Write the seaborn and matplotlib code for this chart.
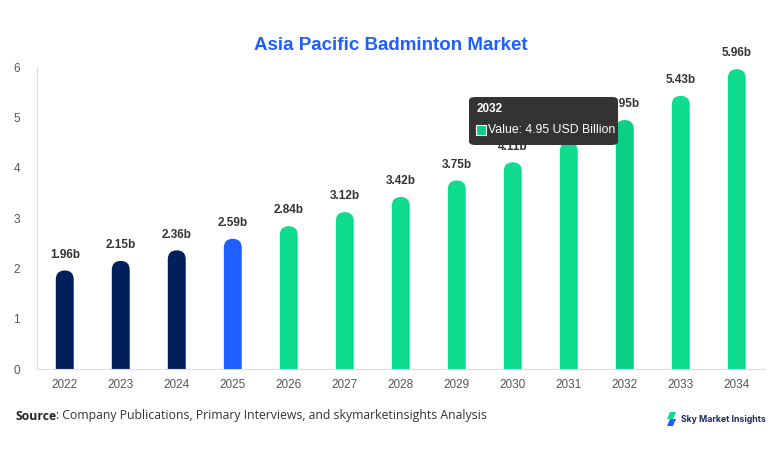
import numpy as np
import pandas as pd
import matplotlib
matplotlib.use("Agg")
import matplotlib.pyplot as plt
import seaborn as sns
from matplotlib.patches import FancyBboxPatch, Polygon

years = ["2022", "2023", "2024", "2025", "2026", "2027", "2028",
         "2029", "2030", "2031", "2032", "2033", "2034"]
values = [1.96, 2.15, 2.36, 2.59, 2.84, 3.12, 3.42, 3.75, 4.11, 4.51, 4.95, 5.43, 5.96]
bar_colors = ["#001f5b", "#001f5b", "#001f5b", "#1f5fff"] + ["#10dc8f"] * 6 + ["#0bcf84"] + ["#10dc8f"] * 2
hover_year = "2032"

df = pd.DataFrame({"year": years, "value": values})

sns.set_style("white")
plt.rcParams["font.family"] = ["Liberation Sans", "DejaVu Sans"]

fig = plt.figure(figsize=(7.82, 4.54), dpi=100)
ax = fig.add_axes([0.047, 0.187, 0.931, 0.665])

sns.barplot(data=df, x="year", y="value", hue="year", palette=bar_colors,
            legend=False, width=0.32, saturation=1, ax=ax)
ax.set_ylim(0, 6)
ax.set_xlim(-0.5, len(years) - 0.5)

# pixel aspect so the rounded top looks circular
fig.canvas.draw()
bb = ax.get_window_extent()
px_x = bb.width / (len(years))
px_y = bb.height / 6.0
aspect = px_x / px_y

for p in list(ax.patches):
    x0, w, h = p.get_x(), p.get_width(), p.get_height()
    r = w / 2
    ry = r * aspect
    fb = FancyBboxPatch((x0, -ry), w, h + ry,
                        boxstyle=f"round,pad=0,rounding_size={r}",
                        mutation_aspect=aspect,
                        facecolor=p.get_facecolor(), edgecolor="none")
    p.remove()
    ax.add_patch(fb)

for i, v in enumerate(values):
    ax.annotate(f"{v:.2f}b", (i, v), xytext=(0, 7), textcoords="offset points",
                ha="center", va="bottom", fontsize=8.5, fontweight="bold", color="#333333")

ax.set_xlabel("")
ax.set_ylabel("")
ax.set_yticks(range(0, 7))
ax.tick_params(axis="both", length=0, colors="#555555", labelsize=8.5)
ax.tick_params(axis="y", pad=12)
ax.tick_params(axis="x", pad=7)
for s in ["top", "right"]:
    ax.spines[s].set_visible(False)
for s in ["left", "bottom"]:
    ax.spines[s].set_color("#dddddd")
    ax.spines[s].set_linewidth(0.8)

fig.text(0.5, 0.9, "Asia Pacific Badminton Market", ha="center", va="center",
         fontsize=13.5, fontweight="bold", color="#1f5fff")

# tooltip for hovered bar
hi = years.index(hover_year)
tip = FancyBboxPatch((469 / 782, 1 - 145 / 454), 149 / 782, 48 / 454,
                     boxstyle="round,pad=0,rounding_size=0.008",
                     transform=fig.transFigure, facecolor="#333333",
                     edgecolor="none", zorder=10)
fig.patches.append(tip)
fig.text(477 / 782, 1 - 109 / 454, hover_year, ha="left", va="center",
         fontsize=8.5, fontweight="bold", color="white", zorder=11)
sq = FancyBboxPatch((476 / 782, 1 - 135 / 454), 10 / 782, 10 / 454,
                    boxstyle="square,pad=0", transform=fig.transFigure,
                    facecolor=bar_colors[hi], edgecolor="white", linewidth=0.8, zorder=11)
fig.patches.append(sq)
fig.text(488 / 782, 1 - 130 / 454, f"Value: {values[hi]:.2f} USD Billion", ha="left",
         va="center", fontsize=8.8, color="white", zorder=11)

# source line
src = fig.text(15 / 782, 1 - 416 / 454, "Source", ha="left", va="center", fontsize=8.8,
               fontweight="bold", color="#222222", family=["Open Sans", "DejaVu Sans"])
ax.annotate(": Company Publications, Primary Interviews, and skymarketinsights Analysis",
            xy=(1, 0.5), xycoords=src, ha="left", va="center", fontsize=8.8,
            color="#333333", family=["Open Sans", "DejaVu Sans"], annotation_clip=False)

# logo
icon1 = Polygon([(670 / 782, 1 - 412 / 454), (676 / 782, 1 - 412 / 454),
                 (673 / 782, 1 - 419 / 454), (667 / 782, 1 - 419 / 454)],
                closed=True, transform=fig.transFigure, facecolor="#10dc8f", edgecolor="none")
icon2 = Polygon([(670 / 782, 1 - 419 / 454), (676 / 782, 1 - 419 / 454),
                 (673 / 782, 1 - 426 / 454), (667 / 782, 1 - 426 / 454)],
                closed=True, transform=fig.transFigure, facecolor="#1f5fff", edgecolor="none")
fig.patches.extend([icon1, icon2])
fig.text(681 / 782, 1 - 419 / 454, "Sky Market Insights", ha="left", va="center",
         fontsize=6.3, fontweight="bold", color="#1a2b5f", family=["Inter", "DejaVu Sans"])

fig.savefig("out.png", dpi=100)
